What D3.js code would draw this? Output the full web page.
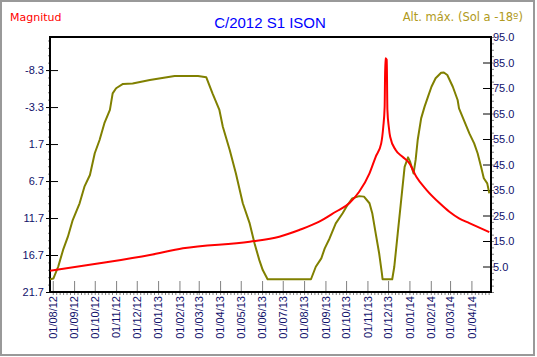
<!DOCTYPE html>
<html><head><meta charset="utf-8">
<script src="https://cdn.jsdelivr.net/npm/d3@7"></script>
<style>html,body{margin:0;padding:0;background:#fff}svg{display:block}</style>
</head><body><script>
// ---- data ----
const chartTitle = "C/2012 S1 ISON";
const leftTitle = "Magnitud";
const rightTitle = "Alt. máx. (Sol a -18º)";

const magDates = ["2012-07-28","2012-10-08","2012-12-20","2013-02-06","2013-05-14","2013-06-26","2013-07-25","2013-08-23","2013-09-16","2013-10-06","2013-10-20","2013-11-04","2013-11-13","2013-11-21","2013-11-24","2013-11-26","2013-11-27","2013-11-29","2013-11-30","2013-12-02","2013-12-04","2013-12-12","2013-12-22","2014-01-01","2014-01-11","2014-01-26","2014-02-14","2014-02-28","2014-03-14","2014-03-29","2014-04-27"];
const magValues = [18.82,17.82,16.7,15.79,14.9,14.23,13.32,12.2,10.85,9.67,8.15,5.66,3.42,1.61,-0.64,-3.3,-9.9,-9.7,-2.9,-0.64,0.71,2.51,3.42,4.31,6.12,7.92,9.71,10.85,11.74,12.38,13.6];

const altDates = ["2012-07-28","2012-08-02","2012-08-09","2012-08-16","2012-08-23","2012-08-30","2012-09-09","2012-09-16","2012-09-24","2012-10-01","2012-10-08","2012-10-15","2012-10-23","2012-10-27","2012-11-01","2012-11-11","2012-11-25","2012-12-20","2013-01-25","2013-02-28","2013-03-12","2013-03-21","2013-03-31","2013-04-05","2013-04-15","2013-04-24","2013-05-04","2013-05-14","2013-05-21","2013-05-28","2013-06-02","2013-06-09","2013-08-11","2013-08-18","2013-08-26","2013-08-31","2013-09-07","2013-09-16","2013-09-26","2013-10-03","2013-10-10","2013-10-20","2013-10-27","2013-11-04","2013-11-08","2013-11-13","2013-11-18","2013-11-22","2013-11-23","2013-12-07","2013-12-10","2013-12-15","2013-12-20","2013-12-25","2013-12-30","2014-01-02","2014-01-07","2014-01-10","2014-01-13","2014-01-18","2014-01-23","2014-01-28","2014-02-02","2014-02-08","2014-02-16","2014-02-20","2014-02-25","2014-03-05","2014-03-12","2014-03-14","2014-03-29","2014-04-05","2014-04-10","2014-04-15","2014-04-19","2014-04-24","2014-04-27"];
const altValues = [0,0.3,5,11.5,16.7,23.2,29.8,36.3,40.9,49.4,54.6,61.2,66.4,72.9,74.9,76.6,76.8,78.1,79.7,79.7,79.2,72.9,66.4,59.8,50.7,41.5,29.8,21.9,14.1,7.5,3.6,0,0,4.9,8.2,12.1,16,21.9,25.9,29.1,31.7,32.6,32.4,29.8,25.9,18,10.2,2.3,0,0,4.9,18,31,44.1,47.8,46.1,41.5,46.8,54.6,63.1,67.7,71.6,75.5,78.8,81,81.1,80.1,75.5,70.3,67,57.2,53.3,49.4,44.1,39.6,37.6,33.7];

const magTicks = [-8.3,-3.3,1.7,6.7,11.7,16.7,21.7];
const altTicks = [5,15,25,35,45,55,65,75,85,95];
const monthTicks = ["2012-08-01","2012-09-01","2012-10-01","2012-11-01","2012-12-01","2013-01-01","2013-02-01","2013-03-01","2013-04-01","2013-05-01","2013-06-01","2013-07-01","2013-08-01","2013-09-01","2013-10-01","2013-11-01","2013-12-01","2014-01-01","2014-02-01","2014-03-01","2014-04-01"];
const xDomain = ["2012-07-28","2014-04-28"];
const magDomain = [21.7,-12.77];
const altDomain = [-5,95];

// ---- layout ----
const W = 537, H = 357, L = 50, R = 490, T = 37, B = 292;
const FONT = "'Liberation Sans', Arial, sans-serif";
const LBL = "#10106a";
const parse = d3.utcParse("%Y-%m-%d");

const svg = d3.select("body").append("svg").attr("width", W).attr("height", H)
  .style("font-family", FONT);
svg.append("rect").attr("x",1).attr("y",1).attr("width",W-4).attr("height",H-3)
  .attr("fill","#fff").attr("stroke","#999").attr("stroke-width",2);

const x = d3.scaleUtc().domain(xDomain.map(parse)).range([L, R]);
const yM = d3.scaleLinear().domain(magDomain).range([B, T]);
const yA = d3.scaleLinear().domain(altDomain).range([B, T]);

// bottom major ticks (gray, inside)
const months = monthTicks.map(parse);
svg.append("g").attr("transform", `translate(0,${B})`)
  .call(d3.axisBottom(x).tickValues(months).tickSizeInner(-11).tickSizeOuter(0).tickFormat(""))
  .call(g => { g.select(".domain").remove(); g.selectAll("line").attr("stroke","#808080"); });
// bottom minor ticks
const minorDays = [];
d3.utcDay.range(x.domain()[0], x.domain()[1]).forEach(d => { const dd = d.getUTCDate(); if ([1,6,11,16,21,26].includes(dd)) minorDays.push(d); });
svg.append("g").attr("transform", `translate(0,${B})`)
  .call(d3.axisBottom(x).tickValues(minorDays).tickSizeInner(3).tickSizeOuter(0).tickFormat(""))
  .call(g => { g.select(".domain").remove(); g.selectAll("line").attr("stroke","#808080"); });
// bottom labels
const fmt = d3.utcFormat("%d/%m/%y");
svg.append("g").selectAll("text").data(months).join("text")
  .attr("transform", d => `translate(${x(d)+0.5},${B+4}) rotate(-90)`)
  .attr("text-anchor","end").attr("dy","0.35em")
  .attr("font-size", 11).attr("fill", LBL).text(fmt);

// left axis
const magMinor = d3.range(21.7, -12.77, -1);
svg.append("g").attr("transform", `translate(${L},0)`)
  .call(d3.axisLeft(yM).tickValues(magMinor).tickSizeInner(2).tickSizeOuter(0).tickFormat(""))
  .call(g => { g.select(".domain").remove(); g.selectAll("line").attr("stroke","#808080"); });
svg.append("g").attr("transform", `translate(${L},0)`)
  .call(d3.axisLeft(yM).tickValues(magTicks).tickSizeInner(-8).tickSizeOuter(0).tickFormat(""))
  .call(g => { g.select(".domain").remove(); g.selectAll("line").attr("stroke","#000"); });
svg.append("g").attr("transform", `translate(${L},0)`)
  .call(d3.axisLeft(yM).tickValues(magTicks).tickSize(4).tickFormat(d => d.toFixed(1)))
  .call(g => { g.select(".domain").remove(); g.selectAll("line").attr("stroke","#000");
    g.selectAll("text").attr("font-size",11).attr("fill",LBL).attr("font-family",FONT).attr("x",-6); });

// right axis
const altMinor = d3.range(-5, 95.01, 2.5);
svg.append("g").attr("transform", `translate(${R+1},0)`)
  .call(d3.axisRight(yA).tickValues(altMinor).tickSizeInner(3).tickSizeOuter(0).tickFormat(""))
  .call(g => { g.select(".domain").remove(); g.selectAll("line").attr("stroke","#808080"); });
svg.append("g").attr("transform", `translate(${R+1},0)`)
  .call(d3.axisRight(yA).tickValues(altTicks).tickSizeInner(-8).tickSizeOuter(0).tickFormat(d => d.toFixed(1)))
  .call(g => { g.select(".domain").remove(); g.selectAll("line").attr("stroke","#000");
    g.selectAll("text").attr("font-size",11).attr("fill",LBL).attr("font-family",FONT).attr("x",2); });

// frame lines
svg.append("path").attr("d", `M${L},${B}V${T}H${R+1}V${B}Z`).attr("fill","none")
  .attr("stroke","#000").attr("stroke-width",2);

// clip
svg.append("clipPath").attr("id","clip").append("rect")
  .attr("x",L).attr("y",T).attr("width",R-L).attr("height",B-T);
const plot = svg.append("g").attr("clip-path","url(#clip)");

const altLine = d3.line().x((d,i) => x(parse(altDates[i]))).y(d => yA(d));
plot.append("path").attr("d", altLine(altValues)).attr("fill","none")
  .attr("stroke","#808000").attr("stroke-width",2).attr("stroke-linejoin","round");
const magLine = d3.line().x((d,i) => x(parse(magDates[i]))).y(d => yM(d)).curve(d3.curveMonotoneX);
plot.append("path").attr("d", magLine(magValues)).attr("fill","none")
  .attr("stroke","#ff0000").attr("stroke-width",2).attr("stroke-linejoin","round");

// redraw bottom axis line on top
svg.append("line").attr("x1",L).attr("x2",R+1).attr("y1",B).attr("y2",B).attr("stroke","#000").attr("stroke-width",2);

// titles
svg.append("text").attr("x",(L+R)/2).attr("y",28).attr("text-anchor","middle")
  .attr("font-size",15).attr("fill","#0000ff").text(chartTitle);
svg.append("text").attr("x",10).attr("y",21).attr("font-family","'DejaVu Sans', sans-serif")
  .attr("font-size",11).attr("fill","#ff0000").text(leftTitle);
svg.append("text").attr("x",523).attr("y",21).attr("text-anchor","end").attr("font-family","'DejaVu Sans', sans-serif")
  .attr("font-size",11.5).attr("fill","#b09a20").text(rightTitle);
</script></body></html>
